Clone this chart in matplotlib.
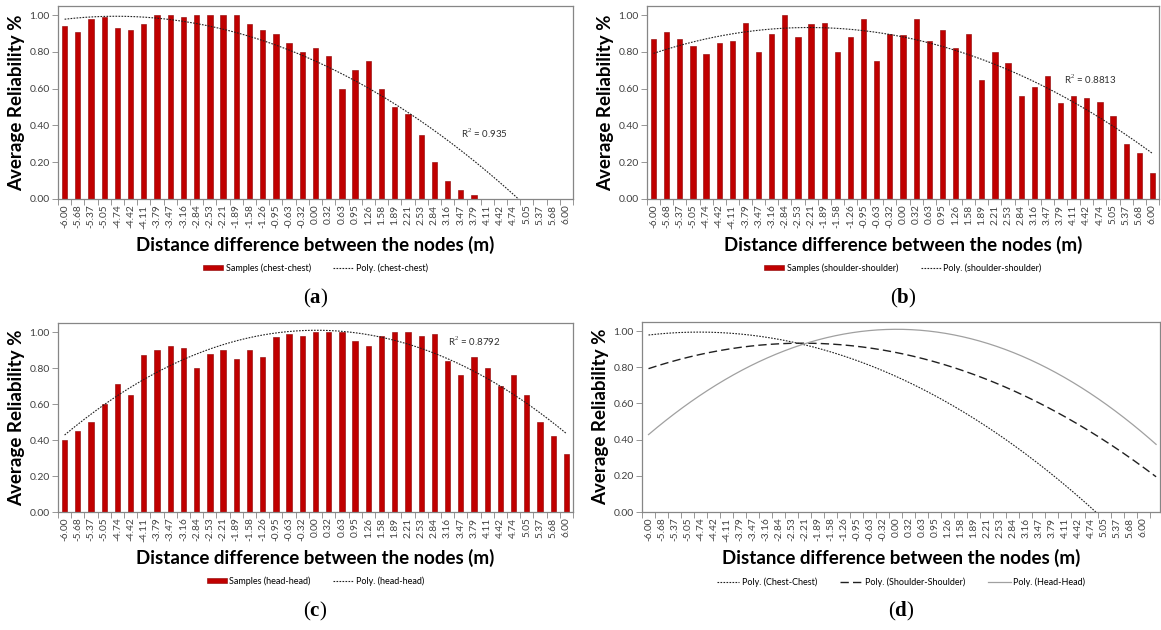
import numpy as np
import matplotlib.pyplot as plt
from matplotlib.lines import Line2D
from matplotlib.patches import Patch

plt.rcParams['font.family'] = ['Lato', 'DejaVu Sans']
plt.rcParams['mathtext.fontset'] = 'custom'
plt.rcParams['mathtext.bf'] = 'Liberation Serif:bold'
plt.rcParams['mathtext.rm'] = 'Liberation Serif'

xlabels = ['-6.00', '-5.68', '-5.37', '-5.05', '-4.74', '-4.42', '-4.11', '-3.79',
           '-3.47', '-3.16', '-2.84', '-2.53', '-2.21', '-1.89', '-1.58', '-1.26',
           '-0.95', '-0.63', '-0.32', '0.00', '0.32', '0.63', '0.95', '1.26', '1.58',
           '1.89', '2.21', '2.53', '2.84', '3.16', '3.47', '3.79', '4.11', '4.42',
           '4.74', '5.05', '5.37', '5.68', '6.00']

chest = [0.94, 0.91, 0.98, 0.99, 0.93, 0.92, 0.95, 1.00, 1.00, 0.99, 1.00, 1.00, 1.00,
         1.00, 0.95, 0.92, 0.90, 0.85, 0.80, 0.82, 0.78, 0.60, 0.70, 0.75, 0.60, 0.50,
         0.46, 0.35, 0.20, 0.10, 0.05, 0.02, 0, 0, 0, 0, 0, 0, 0]
shoulder = [0.87, 0.91, 0.87, 0.83, 0.79, 0.85, 0.86, 0.96, 0.80, 0.90, 1.00, 0.88, 0.95,
            0.96, 0.80, 0.88, 0.98, 0.75, 0.90, 0.89, 0.98, 0.86, 0.92, 0.82, 0.90, 0.65,
            0.80, 0.74, 0.56, 0.61, 0.67, 0.52, 0.56, 0.55, 0.53, 0.45, 0.30, 0.25, 0.14]
head = [0.40, 0.45, 0.50, 0.60, 0.71, 0.65, 0.87, 0.90, 0.92, 0.91, 0.80, 0.88, 0.90,
        0.85, 0.90, 0.86, 0.97, 0.99, 0.98, 1.00, 1.00, 1.00, 0.95, 0.92, 0.98, 1.00,
        1.00, 0.98, 0.99, 0.84, 0.76, 0.86, 0.80, 0.70, 0.76, 0.65, 0.50, 0.42, 0.32]

r2_text = ['R$^2$ = 0.935', 'R$^2$ = 0.8813', 'R$^2$ = 0.8792']
r2_pos = [(30.0, 0.33), (31.3, 0.625), (29.0, 0.92)]
names = ['chest-chest', 'shoulder-shoulder', 'head-head']
names_d = ['Chest-Chest', 'Shoulder-Shoulder', 'Head-Head']
letters = ['a', 'b', 'c', 'd']

W, H = 1161, 630
fig = plt.figure(figsize=(W / 100, H / 100), dpi=100)

idx = np.arange(len(xlabels))
fits = [np.polyfit(idx, s, 2) for s in (chest, shoulder, head)]

# axes boxes in pixels: left, top, right, bottom
boxes = [(58, 6, 573, 199), (647, 6, 1159, 199), (58, 323, 573, 512), (642, 322, 1160, 512)]
grey = '#868686'
red = '#C00000'


def style_axis(ax, xmax):
    ax.set_ylim(0, 1.05)
    ax.set_yticks([0, 0.2, 0.4, 0.6, 0.8, 1.0])
    ax.set_yticklabels(['%.2f' % v for v in [0, 0.2, 0.4, 0.6, 0.8, 1.0]])
    ax.set_xticks(idx)
    ax.set_xticklabels(xlabels, rotation=90)
    ax.set_xticks(np.arange(-0.5, xmax, 1.0), minor=True)
    ax.tick_params(axis='x', which='major', length=0, labelsize=7.3, pad=4, colors='#404040')
    ax.tick_params(axis='x', which='minor', length=4, color=grey, width=0.6)
    ax.tick_params(axis='y', length=4, color=grey, width=0.6, labelsize=7.5,
                   colors='#404040', pad=2)
    for sp in ax.spines.values():
        sp.set_color(grey)
        sp.set_linewidth(0.9)
    ax.set_ylabel('Average Reliability %', fontsize=13.5, fontweight='bold', labelpad=3)
    ax.set_xlabel('Distance difference between the nodes (m)', fontsize=13.5,
                  fontweight='bold', labelpad=5)


axes = []
for k, (l, t, r, b) in enumerate(boxes):
    ax = fig.add_axes([l / W, 1 - b / H, (r - l) / W, (b - t) / H])
    axes.append(ax)

for k, data in enumerate((chest, shoulder, head)):
    ax = axes[k]
    ax.bar(idx, data, width=0.4, color=red, edgecolor='#8B0000', linewidth=0.4)
    xs = np.linspace(0, len(xlabels) - 1, 300)
    ax.plot(xs, np.polyval(fits[k], xs), color='#202020', lw=0.8, ls=(0, (1.5, 1.2)))
    ax.set_xlim(-0.5, len(xlabels) - 0.5)
    style_axis(ax, len(xlabels))
    ax.text(r2_pos[k][0], r2_pos[k][1], r2_text[k], fontsize=7, color='#303030')
    handles = [Patch(facecolor=red, edgecolor='#8B0000', linewidth=0.4),
               Line2D([], [], color='#202020', lw=0.8, ls=(0, (1.5, 1.2)))]
    l, t, r, b = boxes[k]
    ax.legend(handles, ['Samples (%s)' % names[k], 'Poly. (%s)' % names[k]], ncol=2,
              frameon=False, fontsize=6.5, loc='center',
              bbox_to_anchor=((l + r) / 2 / W, 1 - (b + 69) / H),
              bbox_transform=fig.transFigure, handlelength=2.2, handleheight=0.5,
              handletextpad=0.3, columnspacing=2.5)

ax = axes[3]
xs = np.linspace(0, len(xlabels), 300)
styles = [dict(color='#202020', lw=0.8, ls=(0, (1.5, 1.2))),
          dict(color='#202020', lw=1.0, ls=(0, (6, 3))),
          dict(color='#a0a0a0', lw=0.9, ls='-')]
for k in range(3):
    ax.plot(xs, np.polyval(fits[k], xs), label='Poly. (%s)' % names_d[k], **styles[k])
ax.set_xlim(-0.45, 39.3)
style_axis(ax, 39.3)
l, t, r, b = boxes[3]
ax.legend(ncol=3, frameon=False, fontsize=6.5, loc='center',
          bbox_to_anchor=((l + r) / 2 / W, 1 - (b + 70) / H),
          bbox_transform=fig.transFigure, handlelength=2.5,
          handletextpad=0.3, columnspacing=2.5)

for k, (l, t, r, b) in enumerate(boxes):
    fig.text((l + r) / 2 / W, 1 - (b + 99) / H, r'($\mathbf{%s}$)' % letters[k],
             fontsize=15, family='Liberation Serif', ha='center', va='center')

fig.savefig('out.png', dpi=100)
